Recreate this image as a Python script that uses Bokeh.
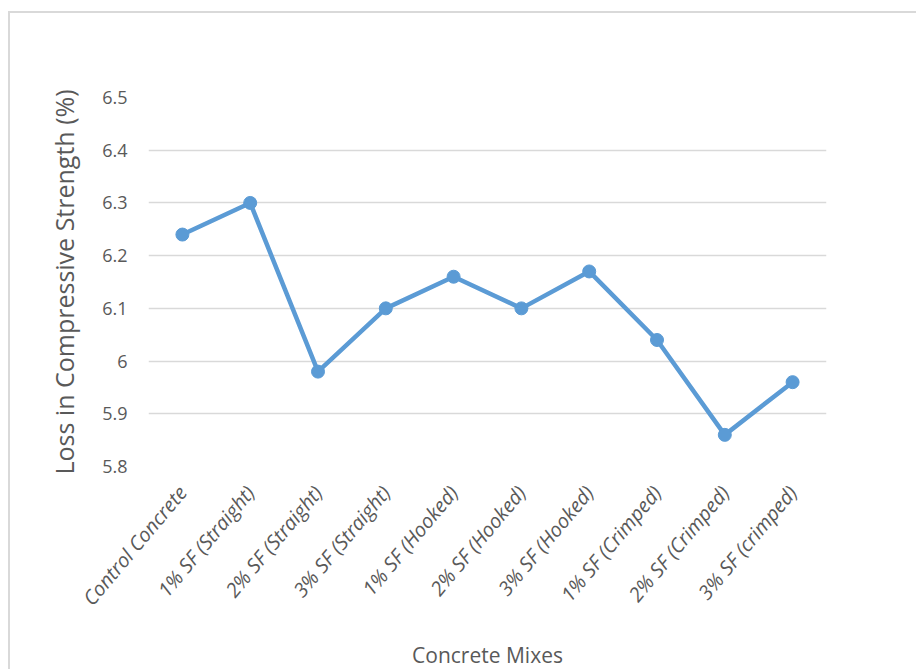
import math
from bokeh.plotting import figure
from bokeh.models import Range1d, FactorRange, FixedTicker, ColumnDataSource
from bokeh.embed import file_html
from bokeh.resources import INLINE

mixes = ["Control Concrete", "1% SF (Straight)", "2% SF (Straight)", "3% SF (Straight)",
         "1% SF (Hooked)", "2% SF (Hooked)", "3% SF (Hooked)",
         "1% SF (Crimped)", "2% SF (Crimped)", "3% SF (crimped)"]
loss = [6.24, 6.30, 5.98, 6.10, 6.16, 6.10, 6.17, 6.04, 5.86, 5.96]
y_ticks = [5.8, 5.9, 6.0, 6.1, 6.2, 6.3, 6.4, 6.5]
y_tick_labels = {5.8: "5.8", 5.9: "5.9", 6.0: "6", 6.1: "6.1", 6.2: "6.2", 6.3: "6.3", 6.4: "6.4", 6.5: "6.5"}

src = ColumnDataSource(dict(x=mixes, y=loss))

FONT = "Open Sans"
TXT = "#595959"

p = figure(width=908, height=658, x_range=FactorRange(*mixes, range_padding=0),
           y_range=Range1d(5.8, 6.5), output_backend="svg", toolbar_location=None,
           min_border_left=138, min_border_right=92, min_border_top=84, min_border_bottom=204,
           margin=(11, 0, 0, 8),
           styles={"border-left": "2px solid #d9d9d9", "border-top": "2px solid #d9d9d9"})
p.outline_line_color = None
p.background_fill_color = "white"
p.border_fill_color = "white"

LINE = "#5B9BD5"
p.line("x", "y", source=src, line_color=LINE, line_width=4.5)
p.scatter("x", "y", source=src, size=13, fill_color=LINE, line_color=LINE)

p.xgrid.grid_line_color = None
p.ygrid.grid_line_color = "#d9d9d9"
p.ygrid.grid_line_width = 1.3

p.yaxis.ticker = FixedTicker(ticks=y_ticks)
p.yaxis.major_label_overrides = y_tick_labels
p.yaxis.axis_line_color = None
p.yaxis.major_tick_line_color = None
p.yaxis.minor_tick_line_color = None
p.yaxis.major_label_text_font = FONT
p.yaxis.major_label_text_font_size = "18px"
p.yaxis.major_label_text_color = TXT
p.yaxis.major_label_standoff = 15
p.yaxis.axis_label = "Loss in Compressive Strength (%)"
p.yaxis.axis_label_text_font = FONT
p.yaxis.axis_label_text_font_size = "25px"
p.yaxis.axis_label_text_font_style = "normal"
p.yaxis.axis_label_text_color = TXT
p.yaxis.axis_label_standoff = 18

p.xaxis.axis_line_color = None
p.xaxis.major_tick_line_color = None
p.xaxis.minor_tick_line_color = None
p.xaxis.major_label_orientation = math.radians(50)
p.xaxis.major_label_text_font = FONT
p.xaxis.major_label_text_font_style = "italic"
p.xaxis.major_label_text_font_size = "20px"
p.xaxis.major_label_text_color = TXT
p.xaxis.major_label_standoff = 16
p.xaxis.axis_label = "Concrete Mixes"
p.xaxis.axis_label_text_font = FONT
p.xaxis.axis_label_text_font_size = "21px"
p.xaxis.axis_label_text_font_style = "normal"
p.xaxis.axis_label_text_color = TXT
p.xaxis.axis_label_standoff = 18

open("out.html", "w").write(file_html(p, INLINE))
